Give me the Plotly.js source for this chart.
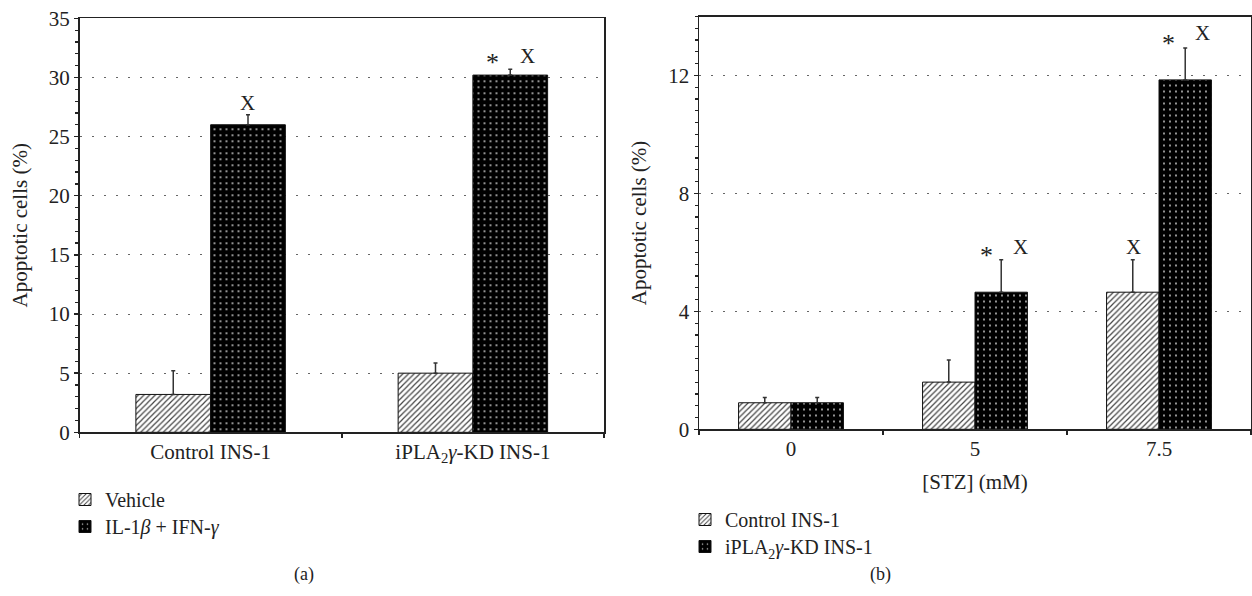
<!DOCTYPE html>
<html>
<head>
<meta charset="utf-8">
<script src="https://cdn.plot.ly/plotly-3.0.1.min.js"></script>
<style>
  html, body { margin: 0; padding: 0; background: #fff; }
  #chart { width: 1252px; height: 596px; }
</style>
</head>
<body>
<div id="chart"></div>
<script>
// ---------- data ----------
const leftCategories = ["Control INS-1", "iPLA2g-KD INS-1"];
const leftTickLabels = ["Control INS-1", "iPLA<sub>2</sub><i>γ</i>-KD INS-1"];
const vehicleValues = [3.2, 5.0];
const vehicleErrors = [2.0, 0.85];
const cytokineValues = [26.0, 30.2];
const cytokineErrors = [0.85, 0.5];

const stzCategories = ["0", "5", "7.5"];
const controlStzValues = [0.9, 1.6, 4.65];
const controlStzErrors = [0.18, 0.75, 1.1];
const kdStzValues = [0.9, 4.65, 11.85];
const kdStzErrors = [0.18, 1.1, 1.08];

const seriesNames = ["Vehicle", "IL-1<i>β</i> + IFN-<i>γ</i>",
                     "Control INS-1", "iPLA<sub>2</sub><i>γ</i>-KD INS-1"];

// significance marks: [category index, y value, text, panel]
const marks = [
  [0, 27.8, "X", 1],
  [1, 31.3, "*", 1],
  [1, 31.85, "X", 1],
  [1, 5.9, "*", 2],
  [1, 6.19, "X", 2],
  [2, 6.19, "X", 2],
  [2, 13.1, "*", 2],
  [2, 13.43, "X", 2]
];
const markShifts = [37, 20, 55, 12, 46, -26, 9, 43];

// ---------- styling ----------
const FONT = "Liberation Serif, Times New Roman, serif";
const TXT = "#222";
const hatch = { shape: "/", fgcolor: "#444", bgcolor: "#fff", size: 4, solidity: 0.3 };
const dots = { shape: ".", fgcolor: "#fff", bgcolor: "#000", size: 6, solidity: 0.07, fgopacity: 0.85 };
const outline = { color: "#111", width: 1 };
const errStyle = (arr) => ({ type: "data", symmetric: false, array: arr,
  arrayminus: arr.map(() => 0), color: "#333", thickness: 1.5, width: 2 });

const traces = [
  { type: "bar", x: leftCategories, y: vehicleValues, name: seriesNames[0],
    xaxis: "x", yaxis: "y", legend: "legend",
    marker: { color: "#fff", pattern: hatch, line: outline },
    error_y: errStyle(vehicleErrors) },
  { type: "bar", x: leftCategories, y: cytokineValues, name: seriesNames[1],
    xaxis: "x", yaxis: "y", legend: "legend2",
    marker: { color: "#000", pattern: dots, line: outline },
    error_y: errStyle(cytokineErrors) },
  { type: "bar", x: stzCategories, y: controlStzValues, name: seriesNames[2],
    xaxis: "x2", yaxis: "y2", legend: "legend3",
    marker: { color: "#fff", pattern: hatch, line: outline },
    error_y: errStyle(controlStzErrors) },
  { type: "bar", x: stzCategories, y: kdStzValues, name: seriesNames[3],
    xaxis: "x2", yaxis: "y2", legend: "legend4",
    marker: { color: "#000", pattern: dots, line: outline },
    error_y: errStyle(kdStzErrors) }
];

const W = 1252, H = 596;
const px = (v) => v / W;
const py = (v) => 1 - v / H;

const yCommon = {
  showline: true, mirror: true, linecolor: "#222", linewidth: 1.5,
  ticks: "outside", ticklen: 4, tickwidth: 1.5, tickcolor: "#222",
  showgrid: true, gridcolor: "#666", gridwidth: 1, griddash: "2px,10px",
  zeroline: false, tickfont: { family: FONT, size: 21, color: TXT },
  title: { text: "Apoptotic cells (%)", font: { family: FONT, size: 21, color: TXT } }
};
const xCommon = {
  showline: true, mirror: true, linecolor: "#222", linewidth: 1.5,
  ticks: "outside", ticklen: 4, tickwidth: 1.5, tickcolor: "#222",
  tickson: "boundaries", showgrid: false, zeroline: false,
  tickfont: { family: FONT, size: 21, color: TXT }
};

const annotations = marks.map((m, i) => ({
  xref: m[3] === 1 ? "x" : "x2", yref: m[3] === 1 ? "y" : "y2",
  x: m[0], y: m[1], text: m[2], showarrow: false, xshift: markShifts[i],
  yanchor: "middle", font: { family: FONT, size: m[2] === "*" ? 26 : 21, color: TXT }
}));
annotations.push(
  { xref: "paper", yref: "paper", x: px(292), y: py(587), text: "(a)", showarrow: false,
    font: { family: FONT, size: 18, color: TXT } },
  { xref: "paper", yref: "paper", x: px(893), y: py(587), text: "(b)", showarrow: false,
    font: { family: FONT, size: 18, color: TXT } }
);

const legendBase = (x, y) => ({
  x: px(x), y: py(y), xanchor: "left", yanchor: "top",
  font: { family: FONT, size: 20, color: TXT }, bgcolor: "rgba(0,0,0,0)"
});

const layout = {
  width: W, height: H,
  margin: { l: 0, r: 0, t: 0, b: 0 },
  paper_bgcolor: "#fff", plot_bgcolor: "#fff",
  barmode: "group", bargap: 0.43, bargroupgap: 0,
  font: { family: FONT, color: TXT },
  xaxis: Object.assign({}, xCommon, {
    domain: [px(79.5), px(604)], anchor: "y", type: "category",
    range: [-0.5, 1.5], tickvals: leftCategories, ticktext: leftTickLabels
  }),
  yaxis: Object.assign({}, yCommon, {
    domain: [py(432.3), py(18.3)], anchor: "x", range: [0, 35], dtick: 5,
    minor: { dtick: 1, ticks: "outside", ticklen: 3, tickwidth: 1.2, tickcolor: "#222", showgrid: false }
  }),
  xaxis2: Object.assign({}, xCommon, {
    domain: [px(699), px(1251)], anchor: "y2", type: "category",
    range: [-0.5, 2.5],
    title: { text: "[STZ] (mM)", standoff: 14, font: { family: FONT, size: 21, color: TXT } }
  }),
  yaxis2: Object.assign({}, yCommon, {
    domain: [py(429.3), py(16.5)], anchor: "x2", range: [0, 14], dtick: 4,
    minor: { dtick: 0.4, ticks: "outside", ticklen: 3, tickwidth: 1.2, tickcolor: "#222", showgrid: false }
  }),
  legend: legendBase(65, 480),
  legend2: legendBase(65, 507),
  legend3: legendBase(685, 500),
  legend4: legendBase(685, 527),
  showlegend: true,
  annotations: annotations
};

Plotly.newPlot("chart", traces, layout, { displayModeBar: false, staticPlot: true });
</script>
</body>
</html>
